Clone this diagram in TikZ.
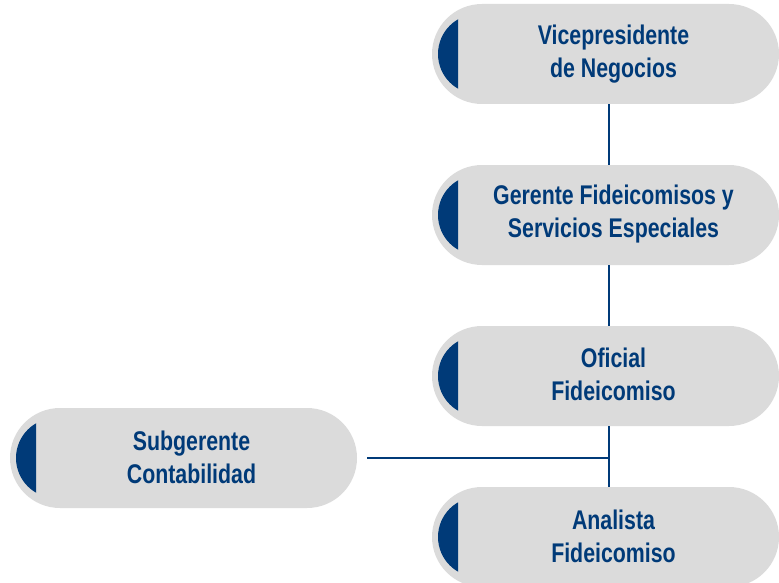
\documentclass[tikz,border=0pt]{standalone}
\usepackage{fontspec}
\setmainfont[FakeStretch=0.79]{Liberation Sans}
\usetikzlibrary{calc}
\definecolor{navy}{HTML}{003A78}
\definecolor{pill}{HTML}{DBDBDB}
\begin{document}
\begin{tikzpicture}[x=1pt,y=-1pt,
  pillbox/.style={rectangle, rounded corners=50pt, fill=pill, minimum width=347pt,
    minimum height=100pt, inner sep=0pt,
    path picture={
      \begin{scope}[sharp corners]
        \clip ($(path picture bounding box.south west)+(0,-5pt)$) rectangle ($(path picture bounding box.north west)+(26pt,5pt)$);
        \fill[navy] ($(path picture bounding box.west)+(46pt,0)$) circle (40pt);
      \end{scope}}},
  pilltext/.style={text=navy, font=\fontsize{27}{33}\selectfont\bfseries, align=center, inner sep=0pt},
  link/.style={draw=navy, line width=1.6pt}]
\useasboundingbox (0,0) rectangle (779,583);

\node[pillbox] (n1) at (605.5,54) {};
\node[pillbox] (n2) at (605.5,215) {};
\node[pillbox] (n3) at (605.5,376) {};
\node[pillbox] (n4) at (605.5,537) {};
\node[pillbox] (n5) at (183.5,458) {};

\node[pilltext] (t1) at ($(n1.center)+(8,0)$) {Vicepresidente\\de Negocios};
\node[pilltext] (t2) at ($(n2.center)+(8,-1)$) {Gerente Fideicomisos y\\Servicios Especiales};
\node[pilltext] (t3) at ($(n3.center)+(8,-2)$) {Oficial\\Fideicomiso};
\node[pilltext] (t4) at ($(n4.center)+(8,-1)$) {Analista\\Fideicomiso};
\node[pilltext] (t5) at ($(n5.center)+(8,-1)$) {Subgerente\\Contabilidad};

\coordinate (b3) at ([xshift=3.5pt]n3.south);
\draw[link] ([xshift=3.5pt]n1.south) -- ([xshift=3.5pt]n2.north);
\draw[link] ([xshift=3.5pt]n2.south) -- ([xshift=3.5pt]n3.north);
\draw[link] (b3) -- ([xshift=3.5pt]n4.north);
\draw[link] ([xshift=10pt]n5.east) -- (n5.east -| b3);
\end{tikzpicture}
\end{document}
